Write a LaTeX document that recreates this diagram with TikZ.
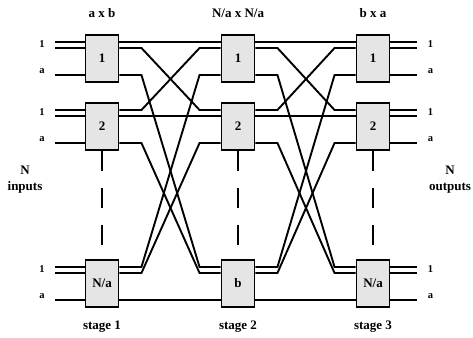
\documentclass[tikz,border=0pt]{standalone}
\usepackage{fontspec}
\setmainfont{Liberation Serif}
\usetikzlibrary{calc}
\tikzset{
  swbox/.style={draw, line width=1.9pt, fill=black!10, minimum width=33pt, minimum height=47pt, inner sep=0pt, anchor=north, font=\fontsize{13}{15}\selectfont\bfseries},
  wire/.style={line width=1.9pt},
  title/.style={font=\fontsize{13}{16}\selectfont\bfseries, align=center},
  portlbl/.style={font=\fontsize{10.5}{12}\selectfont\bfseries, inner sep=0pt},
  gap/.style={line width=1.9pt, dash pattern=on 20pt off 17pt}
}
\begin{document}
\begin{tikzpicture}[x=1pt,y=-1pt]
\useasboundingbox (0,0) rectangle (473,337);
% switch boxes, one column per stage
\foreach \s/\x/\t in {A/102/{N/a},B/238/b,C/373/{N/a}} {
  \node[swbox] (\s1) at (\x,34) {1};
  \node[swbox] (\s2) at (\x,102) {2};
  \node[swbox] (\s3) at (\x,259) {\t};
  \draw[gap] (\s2.south) -- (\s3.north);
}
% ports on both sides of every box
\foreach \s in {A,B,C} \foreach \r in {1,2,3} \foreach \p/\d in {1/8,2/14,3/41} {
  \coordinate (\s\r-l\p) at ($(\s\r.north west)+(0,\d)$);
  \coordinate (\s\r-r\p) at ($(\s\r.north east)+(0,\d)$);
}
% inputs and outputs
\foreach \r in {1,2,3} {
  \foreach \p in {1,2,3} {
    \draw[wire] (A\r-l\p) -- ++(-30,0);
    \draw[wire] (C\r-r\p) -- ++(27,0);
  }
  \node[portlbl] (in\r-1) at ($(A\r-l1)+(-42.5,2)$) {1};
  \node[portlbl] (in\r-a) at ($(A\r-l3)+(-42.5,-4)$) {a};
  \node[portlbl] (out\r-1) at ($(C\r-r1)+(40,2)$) {1};
  \node[portlbl] (out\r-a) at ($(C\r-r3)+(40,-4)$) {a};
}
% links between stages
\foreach \S/\T in {A/B,B/C} \foreach \i in {1,2,3} \foreach \j in {1,2,3}
  \draw[wire] (\S\i-r\j) -- ++(22,0) -- ($(\T\j-l\i)+(-21,0)$) -- (\T\j-l\i);
% titles
\node[title] (tA) at (102,13) {a x b};
\node[title] (tB) at (238,13) {N/a x N/a};
\node[title] (tC) at (373,13) {b x a};
\node[title] (sA) at (102,327) {stage 1};
\node[title] (sB) at (238,327) {stage 2};
\node[title] (sC) at (373,327) {stage 3};
\node[title] (nin) at (25,180) {N\\inputs};
\node[title] (nout) at (450,180) {N\\outputs};
\end{tikzpicture}
\end{document}
